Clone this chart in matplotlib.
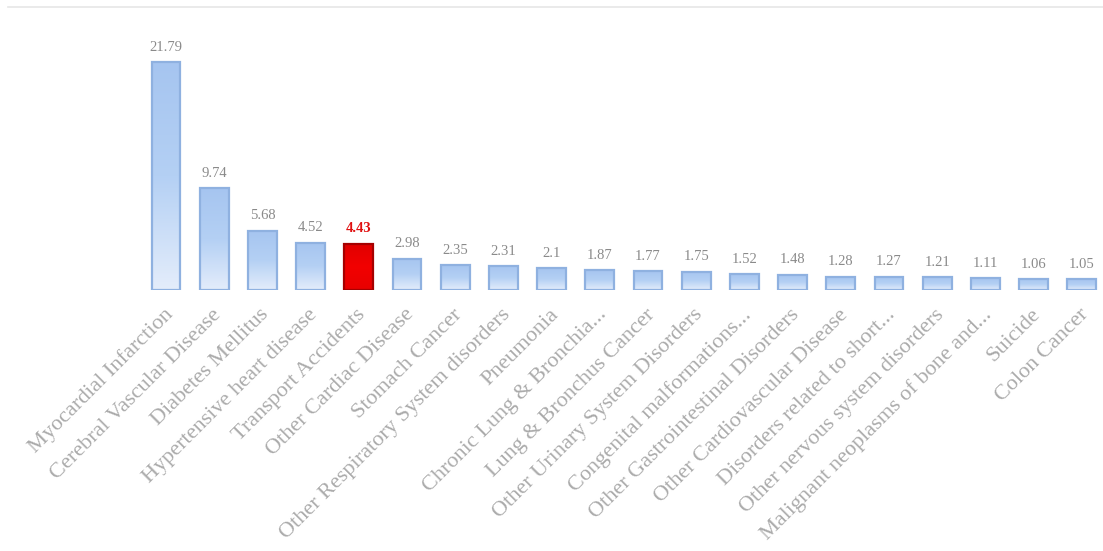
import numpy as np
import matplotlib
matplotlib.use("Agg")
import matplotlib.pyplot as plt
from matplotlib.colors import LinearSegmentedColormap
from matplotlib.lines import Line2D
import matplotlib.transforms as mtransforms

causes = [
    "Myocardial Infarction",
    "Cerebral Vascular Disease",
    "Diabetes Mellitus",
    "Hypertensive heart disease",
    "Transport Accidents",
    "Other Cardiac Disease",
    "Stomach Cancer",
    "Other Respiratory System disorders",
    "Pneumonia",
    "Chronic Lung & Bronchia...",
    "Lung & Bronchus Cancer",
    "Other Urinary System Disorders",
    "Congenital malformations...",
    "Other Gastrointestinal Disorders",
    "Other Cardiovascular Disease",
    "Disorders related to short...",
    "Other nervous system disorders",
    "Malignant neoplasms of bone and...",
    "Suicide",
    "Colon Cancer",
]
rates = [21.79, 9.74, 5.68, 4.52, 4.43, 2.98, 2.35, 2.31, 2.1, 1.87,
         1.77, 1.75, 1.52, 1.48, 1.28, 1.27, 1.21, 1.11, 1.06, 1.05]
value_labels = ["21.79", "9.74", "5.68", "4.52", "4.43", "2.98", "2.35", "2.31",
                "2.1", "1.87", "1.77", "1.75", "1.52", "1.48", "1.28", "1.27",
                "1.21", "1.11", "1.06", "1.05"]
highlight = "Transport Accidents"

W, H, DPI = 1103, 551, 100
fig = plt.figure(figsize=(W / DPI, H / DPI), dpi=DPI)
fig.patch.set_facecolor("white")

# axes placement in pixels
slot = 48.2
first_center = 166
baseline_y = 290
top_y = 10
left_px = first_center - slot / 2
ax = fig.add_axes([left_px / W, (H - baseline_y) / H,
                   (W - left_px) / W, (baseline_y - top_y) / H])
xmax = -0.5 + (W - left_px) / slot
ymax = (baseline_y - top_y) / 10.46

x = np.arange(len(causes))
blue_cmap = LinearSegmentedColormap.from_list("bluegrad", ["#e4edfb", "#b4d0f4", "#a6c5f0"])
red_cmap = LinearSegmentedColormap.from_list("redgrad", ["#e80000", "#f20000", "#e00000"])

bars = ax.bar(x, rates, width=0.6, color="none", linewidth=1.6, zorder=3)
grad = np.linspace(0, 1, 256).reshape(-1, 1)
for name, bar in zip(causes, bars):
    is_hl = name == highlight
    bar.set_edgecolor("#a60000" if is_hl else "#8fb1e0")
    x0, w, h = bar.get_x(), bar.get_width(), bar.get_height()
    im = ax.imshow(grad, extent=[x0, x0 + w, 0, h], origin="lower",
                   cmap=red_cmap if is_hl else blue_cmap, aspect="auto", zorder=2)
    im.set_clip_path(bar)

for xi, v, lab, name in zip(x, rates, value_labels, causes):
    is_hl = name == highlight
    ax.annotate(lab, (xi, v), xytext=(0, 6), textcoords="offset points",
                ha="center", va="bottom", fontsize=10.5,
                family="Liberation Serif",
                color="#e01010" if is_hl else "#8a8a8a",
                fontweight="bold" if is_hl else "normal")

ax.set_xlim(-0.5, xmax)
ax.set_ylim(0, ymax)

# rotated category labels hanging below the bars
label_shift = mtransforms.ScaledTranslation(4 / DPI, -22 / DPI, fig.dpi_scale_trans)
for xi, name in zip(x, causes):
    ax.text(xi, 0, name, transform=ax.get_xaxis_transform() + label_shift,
            rotation=45, rotation_mode="anchor", ha="right", va="center",
            fontsize=16, family="Liberation Serif", color="#ababab", clip_on=False)

ax.set_xticks([])
ax.set_yticks([])
for s in ax.spines.values():
    s.set_visible(False)
ax.set_facecolor("none")

# thin frame line across the top
fig.add_artist(Line2D([8 / W, 1], [1 - 7 / H, 1 - 7 / H], color="#e6e6e6", lw=1.2))

fig.savefig("out.png", dpi=DPI)
